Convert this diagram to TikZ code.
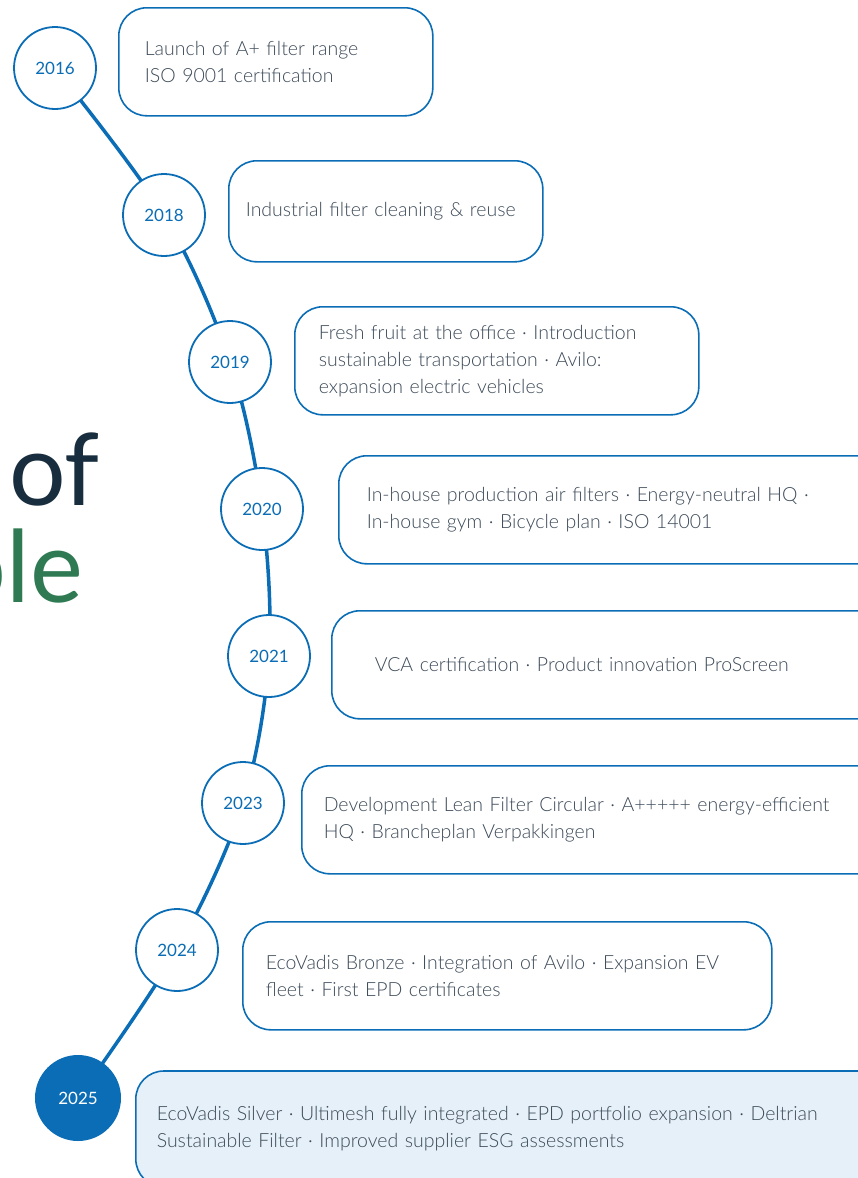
\documentclass[tikz,border=0pt]{standalone}
\usepackage{fontspec}
\IfFontExistsTF{Lato Light}{\setmainfont{Lato Light}}{\setmainfont{Lato}}
\newfontfamily\titlefont{Lato}
\usetikzlibrary{backgrounds}
\definecolor{tlblue}{HTML}{0B6DB5}
\definecolor{tlgray}{HTML}{3C4A58}
\definecolor{tlnavy}{HTML}{182D3E}
\definecolor{tlgreen}{HTML}{2F7A52}
\definecolor{tlpale}{HTML}{E5F0F8}

\begin{document}
\begin{tikzpicture}[x=1pt, y=-1pt,
  year/.style={circle, draw=tlblue, line width=1.8pt, fill=white, minimum size=82pt, inner sep=0pt, text=tlblue, font=\titlefont\fontsize{17}{17}\selectfont},
  entry/.style={draw=tlblue, line width=1.6pt, rounded corners=28pt, fill=white, anchor=north west, align=left, minimum height=108pt, inner ysep=0pt, text=tlgray, font=\fontsize{19.5}{27}\selectfont},
  title/.style={anchor=base east, inner sep=0pt, font=\titlefont\fontsize{100}{100}\selectfont}]
  \useasboundingbox (0,0) rectangle (857,1178);
  \node[title, text=tlnavy] (of) at (100,505) {of};
  \node[title, text=tlgreen] (ple) at (83,602) {ple};

  \node[year] (y16) at (55,68) {2016};
  \node[year] (y18) at (164,215) {2018};
  \node[year] (y19) at (230,362) {2019};
  \node[year] (y20) at (262,509) {2020};
  \node[year] (y21) at (269,656) {2021};
  \node[year] (y23) at (243,803) {2023};
  \node[year] (y24) at (177,950) {2024};
  \node[year, draw=none, fill=tlblue, text=white, minimum size=86pt] (y25) at (78,1098) {2025};
  \begin{scope}[on background layer]
    \draw[tlblue, line width=3.5pt] plot[smooth, tension=0.55] coordinates {(y16.center) (y18.center) (y19.center) (y20.center) (y21.center) (y23.center) (y24.center) (y25.center)};
  \end{scope}

  \node[entry, inner xsep=26pt, text width=262pt] (e16) at (118,7) {Launch of A+ filter range\\ISO 9001 certification};
  \node[entry, inner xsep=17pt, text width=280pt, minimum height=101pt] (e18) at (228,160) {Industrial filter cleaning \& reuse};
  \node[entry, inner xsep=24pt, text width=356pt] (e19) at (294,306) {Fresh fruit at the office · Introduction\\sustainable transportation · Avilo:\\expansion electric vehicles};
  \node[entry, inner xsep=28pt, text width=500pt] (e20) at (338,455) {In-house production air filters · Energy-neutral HQ ·\\In-house gym · Bicycle plan · ISO 14001};
  \node[entry, inner xsep=43pt, text width=480pt] (e21) at (331,610) {VCA certification · Product innovation ProScreen};
  \node[entry, inner xsep=22pt, text width=540pt] (e23) at (301,765) {Development Lean Filter Circular · A+++++ energy-efficient\\HQ · Brancheplan Verpakkingen};
  \node[entry, inner xsep=23pt, text width=483pt] (e24) at (242,921) {EcoVadis Bronze · Integration of Avilo · Expansion EV\\fleet · First EPD certificates};
  \node[entry, fill=tlpale, inner xsep=21pt, text width=720pt, minimum height=116pt, anchor=west] (e25) at (135,1129) {EcoVadis Silver · Ultimesh fully integrated · EPD portfolio expansion · Deltrian\\Sustainable Filter · Improved supplier ESG assessments};
\end{tikzpicture}
\end{document}
